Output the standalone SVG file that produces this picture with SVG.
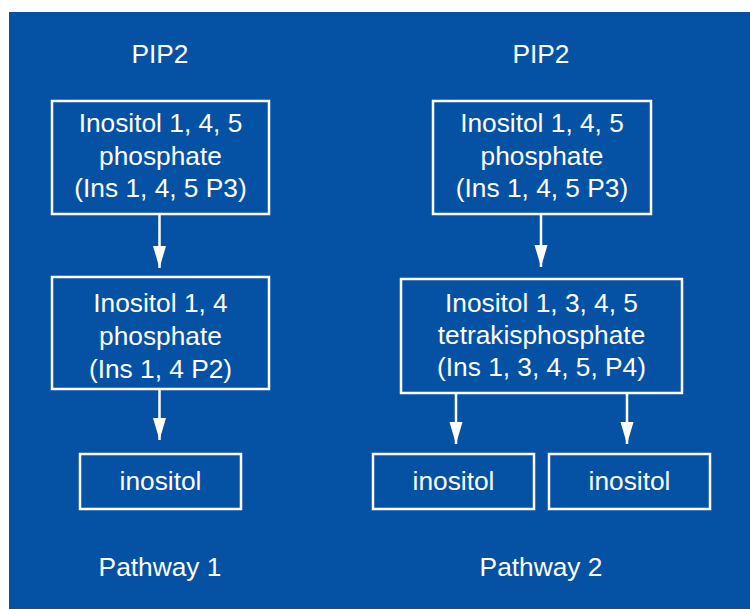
<svg xmlns="http://www.w3.org/2000/svg" width="750" height="609" viewBox="0 0 750 609">
<style>
.box{fill:none;stroke:#ffffff;stroke-width:2.5}
.t{font-family:"Liberation Sans",Arial,sans-serif;font-size:26.3px;fill:#ffffff;text-anchor:middle}
.c{stroke:#ffffff;stroke-width:2.5;fill:none}
</style>
<defs>
<marker id="ah" markerUnits="userSpaceOnUse" markerWidth="22" markerHeight="14" refX="22" refY="7" orient="auto" viewBox="0 0 22 14">
<polygon points="0,0.5 22,7 0,13.5" fill="#ffffff"/>
</marker>
</defs>
<rect x="0" y="0" width="750" height="609" fill="#ffffff"/>
<rect x="9" y="12" width="741" height="597" fill="#0551a3"/>
<text class="t" x="160" y="63">PIP2</text>
<text class="t" x="541" y="63">PIP2</text>
<g id="n1">
<rect class="box" x="52" y="101" width="217" height="113"/>
<text class="t" x="160.5" y="132">Inositol 1, 4, 5</text>
<text class="t" x="160.5" y="165">phosphate</text>
<text class="t" x="160.5" y="197">(Ins 1, 4, 5 P3)</text>
</g>
<g id="n2">
<rect class="box" x="52" y="277" width="217" height="112"/>
<text class="t" x="160.5" y="312">Inositol 1, 4</text>
<text class="t" x="160.5" y="345">phosphate</text>
<text class="t" x="160.5" y="378">(Ins 1, 4 P2)</text>
</g>
<g id="n3">
<rect class="box" x="80" y="454" width="161" height="55"/>
<text class="t" x="160.5" y="490">inositol</text>
</g>
<g id="n4">
<rect class="box" x="433" y="101" width="218" height="113"/>
<text class="t" x="542" y="132">Inositol 1, 4, 5</text>
<text class="t" x="542" y="165">phosphate</text>
<text class="t" x="542" y="197">(Ins 1, 4, 5 P3)</text>
</g>
<g id="n5">
<rect class="box" x="401" y="279" width="281" height="114"/>
<text class="t" x="541.5" y="312">Inositol 1, 3, 4, 5</text>
<text class="t" x="541.5" y="344">tetrakisphosphate</text>
<text class="t" x="541.5" y="376">(Ins 1, 3, 4, 5, P4)</text>
</g>
<g id="n6">
<rect class="box" x="373" y="454" width="161" height="55"/>
<text class="t" x="453.5" y="490">inositol</text>
</g>
<g id="n7">
<rect class="box" x="549" y="454" width="161" height="55"/>
<text class="t" x="629.5" y="490">inositol</text>
</g>
<text class="t" x="160" y="576">Pathway 1</text>
<text class="t" x="541" y="576">Pathway 2</text>
<g id="connectors">
<line class="c" x1="159.5" y1="215" x2="159.5" y2="268" marker-end="url(#ah)"/>
<line class="c" x1="159.5" y1="390" x2="159.5" y2="440" marker-end="url(#ah)"/>
<line class="c" x1="541" y1="215" x2="541" y2="267" marker-end="url(#ah)"/>
<line class="c" x1="456" y1="394" x2="456" y2="444" marker-end="url(#ah)"/>
<line class="c" x1="627" y1="394" x2="627" y2="444" marker-end="url(#ah)"/>
</g>
</svg>
